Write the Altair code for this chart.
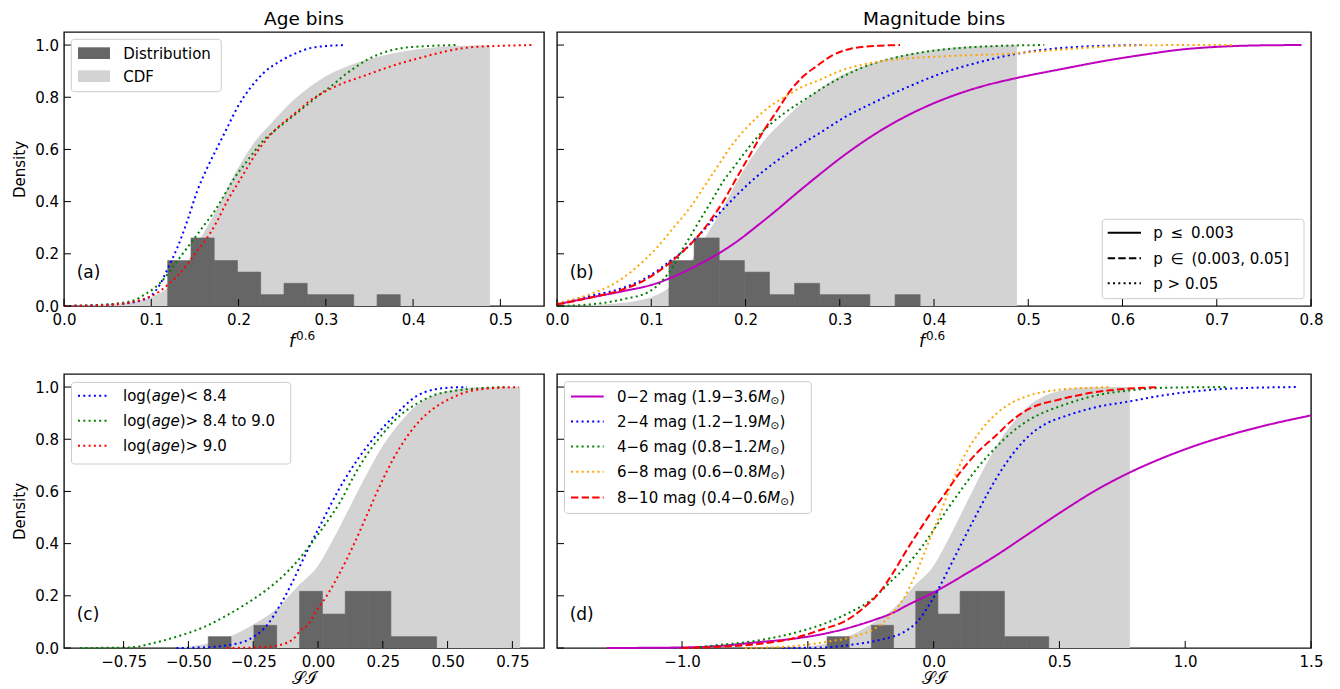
import altair as alt
import pandas as pd

FONT = "DejaVu Sans"

# ---------------- data ----------------
Y_TICKS = [0.0, 0.2, 0.4, 0.6, 0.8, 1.0]

# histogram of f^0.6 (relative frequency)
F_BIN_EDGES = [0.1188, 0.1455, 0.1721, 0.1988, 0.2254, 0.2521, 0.2787, 0.3054, 0.3320, 0.3587, 0.3853]
F_HEIGHTS = [0.174, 0.261, 0.174, 0.130, 0.0435, 0.087, 0.0435, 0.0435, 0.0, 0.0435]
# smooth CDF of f^0.6
CDF_F_X = [0.0, 0.04, 0.07, 0.09, 0.10, 0.115, 0.13, 0.145, 0.16, 0.175, 0.19, 0.205, 0.22, 0.24,
           0.26, 0.28, 0.30, 0.33, 0.36, 0.39, 0.42, 0.45, 0.488]
CDF_F_Y = [0.0, 0.004, 0.012, 0.024, 0.034, 0.06, 0.11, 0.19, 0.28, 0.37, 0.47, 0.56, 0.635, 0.71,
           0.78, 0.835, 0.88, 0.925, 0.955, 0.976, 0.99, 0.996, 1.0]

# histogram of SI
S_BIN_EDGES = [-0.4235, -0.3354, -0.2473, -0.1592, -0.0710, 0.0171, 0.1052, 0.1933, 0.2814, 0.3696, 0.4577]
S_HEIGHTS = [0.0435, 0.0, 0.087, 0.0, 0.217, 0.130, 0.217, 0.217, 0.0435, 0.0435]
CDF_S_X = [-0.55, -0.45, -0.35, -0.25, -0.16, -0.08, 0.0, 0.06, 0.12, 0.19, 0.25, 0.32, 0.38, 0.44,
           0.51, 0.6, 0.7, 0.78]
CDF_S_Y = [0.0, 0.012, 0.04, 0.09, 0.15, 0.235, 0.315, 0.42, 0.535, 0.67, 0.775, 0.868, 0.93, 0.966,
           0.987, 0.998, 1.0, 1.0]

# panel (a): age bins, f^0.6
A_BLUE_X = [0.0, 0.038, 0.0775, 0.089, 0.0993, 0.11, 0.1184, 0.1298, 0.1413, 0.1527, 0.1642, 0.1756,
            0.187, 0.1985, 0.2138, 0.229, 0.248, 0.2673, 0.2845, 0.30, 0.32]
A_BLUE_Y = [0.0, 0.003, 0.013, 0.022, 0.038, 0.083, 0.14, 0.223, 0.326, 0.441, 0.53, 0.607, 0.683,
            0.76, 0.837, 0.894, 0.939, 0.971, 0.99, 0.996, 1.0]
A_GREEN_X = [0.0, 0.04, 0.0775, 0.093, 0.104, 0.1155, 0.127, 0.1384, 0.15, 0.1613, 0.1727, 0.1842,
             0.1956, 0.207, 0.2185, 0.23, 0.2414, 0.253, 0.2708, 0.2845, 0.2937, 0.309, 0.3204,
             0.3318, 0.347, 0.366, 0.385, 0.416, 0.45]
A_GREEN_Y = [0.0, 0.004, 0.019, 0.045, 0.07, 0.108, 0.16, 0.211, 0.262, 0.313, 0.364, 0.428, 0.492,
             0.543, 0.594, 0.640, 0.672, 0.703, 0.750, 0.787, 0.812, 0.850, 0.882, 0.910, 0.943,
             0.971, 0.987, 0.996, 1.0]
A_RED_X = [0.0, 0.05, 0.0775, 0.0955, 0.11, 0.1184, 0.1298, 0.1413, 0.1527, 0.1642, 0.1756, 0.187,
           0.1985, 0.21, 0.2215, 0.233, 0.2444, 0.2597, 0.2708, 0.2803, 0.2918, 0.3052, 0.3204,
           0.3395, 0.3586, 0.3815, 0.4083, 0.435, 0.462, 0.4925, 0.538]
A_RED_Y = [0.0, 0.004, 0.015, 0.032, 0.057, 0.08, 0.115, 0.16, 0.211, 0.262, 0.326, 0.402, 0.466,
           0.53, 0.592, 0.642, 0.683, 0.725, 0.755, 0.783, 0.808, 0.832, 0.855, 0.877, 0.9, 0.926,
           0.951, 0.974, 0.99, 0.996, 1.0]

# panel (b): magnitude bins, f^0.6
B_MAG_X = [0.0, 0.0349, 0.0703, 0.1022, 0.1235, 0.1483, 0.1695, 0.1908, 0.212, 0.2333, 0.2545,
           0.2758, 0.3037, 0.3392, 0.3746, 0.41, 0.4455, 0.488, 0.534, 0.587, 0.6225, 0.658, 0.711,
           0.75, 0.79]
B_MAG_Y = [0.006, 0.032, 0.057, 0.083, 0.112, 0.155, 0.197, 0.247, 0.306, 0.368, 0.433, 0.496,
           0.575, 0.663, 0.735, 0.792, 0.836, 0.874, 0.907, 0.943, 0.963, 0.981, 0.995, 0.999, 1.0]
B_BLUE_X = [0.0, 0.035, 0.0703, 0.0916, 0.1058, 0.12, 0.1341, 0.1483, 0.1624, 0.1766, 0.1908,
            0.205, 0.2191, 0.2333, 0.2474, 0.2616, 0.2758, 0.3037, 0.3392, 0.3746, 0.41, 0.4455,
            0.481, 0.5164, 0.552, 0.59, 0.6225]
B_BLUE_Y = [0.01, 0.038, 0.07, 0.102, 0.134, 0.172, 0.211, 0.262, 0.318, 0.372, 0.425, 0.474,
            0.517, 0.556, 0.592, 0.625, 0.656, 0.72, 0.785, 0.843, 0.894, 0.932, 0.962, 0.982,
            0.993, 0.998, 1.0]
B_GREEN_X = [0.0, 0.035, 0.0703, 0.0987, 0.113, 0.1235, 0.1341, 0.1447, 0.1553, 0.166, 0.1766,
             0.1872, 0.1978, 0.212, 0.2262, 0.2404, 0.2545, 0.2722, 0.286, 0.3037, 0.3214, 0.3392,
             0.3746, 0.41, 0.4455, 0.48, 0.517]
B_GREEN_Y = [0.0, 0.006, 0.026, 0.057, 0.102, 0.153, 0.223, 0.287, 0.351, 0.415, 0.479, 0.53,
             0.581, 0.645, 0.696, 0.737, 0.772, 0.813, 0.845, 0.88, 0.91, 0.933, 0.964, 0.983,
             0.993, 0.998, 1.0]
B_ORANGE_X = [0.0, 0.035, 0.0561, 0.0703, 0.088, 0.1058, 0.1235, 0.1412, 0.1553, 0.1695, 0.1837,
              0.1978, 0.212, 0.2262, 0.2404, 0.258, 0.2758, 0.3037, 0.3392, 0.3746, 0.41, 0.4455,
              0.481, 0.5164, 0.552, 0.587, 0.6225, 0.67, 0.72]
B_ORANGE_Y = [0.01, 0.045, 0.077, 0.108, 0.16, 0.223, 0.3, 0.377, 0.453, 0.53, 0.607, 0.67, 0.722,
              0.766, 0.798, 0.836, 0.862, 0.905, 0.935, 0.95, 0.957, 0.962, 0.967, 0.977, 0.987,
              0.995, 0.999, 1.0, 1.0]
B_RED_X = [0.0, 0.035, 0.0703, 0.0916, 0.1058, 0.12, 0.1341, 0.1483, 0.1624, 0.1766, 0.1908, 0.205,
           0.2191, 0.2333, 0.2474, 0.2616, 0.2758, 0.2895, 0.3108, 0.3392, 0.364]
B_RED_Y = [0.006, 0.032, 0.064, 0.096, 0.128, 0.166, 0.211, 0.262, 0.326, 0.402, 0.492, 0.581,
           0.67, 0.747, 0.824, 0.881, 0.92, 0.955, 0.985, 0.997, 1.0]

# panel (c): age bins, SI
C_BLUE_X = [-0.546, -0.45, -0.34, -0.262, -0.193, -0.151, -0.1, -0.05, 0.0135, 0.082, 0.151, 0.22,
            0.30, 0.38, 0.445, 0.50, 0.575]
C_BLUE_Y = [0.0, 0.002, 0.012, 0.035, 0.092, 0.156, 0.25, 0.355, 0.48, 0.61, 0.72, 0.81, 0.895,
            0.965, 0.99, 0.997, 1.0]
C_GREEN_X = [-0.918, -0.725, -0.623, -0.533, -0.443, -0.366, -0.289, -0.2116, -0.147, -0.083,
             -0.0317, 0.0339, 0.0852, 0.1364, 0.188, 0.2393, 0.3037, 0.3807, 0.4447, 0.535, 0.637,
             0.72]
C_GREEN_Y = [0.0, 0.002, 0.022, 0.047, 0.079, 0.117, 0.162, 0.213, 0.265, 0.329, 0.393, 0.482,
             0.559, 0.655, 0.74, 0.808, 0.88, 0.936, 0.968, 0.987, 0.996, 1.0]
C_RED_X = [-0.35, -0.237, -0.16, -0.096, -0.069, -0.0317, -0.0177, 0.0339, 0.0852, 0.1364, 0.188,
           0.2393, 0.2906, 0.342, 0.3935, 0.4447, 0.509, 0.573, 0.65, 0.775]
C_RED_Y = [0.0, 0.002, 0.009, 0.034, 0.066, 0.098, 0.124, 0.2, 0.29, 0.393, 0.508, 0.623, 0.725,
           0.808, 0.872, 0.917, 0.955, 0.981, 0.994, 1.0]

# panel (d): magnitude bins, SI
D_MAG_X = [-1.298, -1.0, -0.835, -0.702, -0.57, -0.4377, -0.3056, -0.226, -0.173, -0.094, -0.016,
           0.116, 0.249, 0.381, 0.513, 0.646, 0.778, 0.91, 1.042, 1.175, 1.307, 1.499]
D_MAG_Y = [0.0, 0.002, 0.009, 0.022, 0.034, 0.054, 0.086, 0.111, 0.13, 0.169, 0.205, 0.277, 0.355,
           0.44, 0.525, 0.605, 0.672, 0.728, 0.776, 0.816, 0.85, 0.891]
D_BLUE_X = [-0.6, -0.4377, -0.3056, -0.2, -0.12, -0.0675, -0.0147, 0.0238, 0.0635, 0.116, 0.1694,
            0.222, 0.275, 0.328, 0.381, 0.447, 0.513, 0.646, 0.778, 0.91, 1.042, 1.175, 1.44]
D_BLUE_Y = [0.0, 0.002, 0.015, 0.034, 0.06, 0.098, 0.17, 0.235, 0.31, 0.41, 0.51, 0.605, 0.69,
            0.76, 0.815, 0.86, 0.885, 0.923, 0.945, 0.968, 0.984, 0.994, 1.0]
D_GREEN_X = [-0.95, -0.905, -0.702, -0.57, -0.4377, -0.332, -0.2527, -0.173, -0.107, -0.041, 0.012,
             0.05, 0.116, 0.1825, 0.249, 0.315, 0.381, 0.513, 0.646, 0.778, 0.91, 1.16]
D_GREEN_Y = [0.0, 0.006, 0.028, 0.054, 0.092, 0.137, 0.181, 0.252, 0.316, 0.395, 0.47, 0.525, 0.615,
             0.70, 0.77, 0.83, 0.875, 0.93, 0.968, 0.987, 0.997, 1.0]
D_ORANGE_X = [-0.75, -0.57, -0.4377, -0.3056, -0.226, -0.173, -0.12, -0.08, -0.041, -0.016, 0.0238,
              0.0635, 0.116, 0.1825, 0.249, 0.315, 0.381, 0.513, 0.646, 0.698]
D_ORANGE_Y = [0.0, 0.006, 0.022, 0.047, 0.079, 0.124, 0.188, 0.265, 0.354, 0.415, 0.508, 0.61,
              0.725, 0.827, 0.898, 0.942, 0.968, 0.991, 0.998, 1.0]
D_RED_X = [-1.0, -0.702, -0.57, -0.4377, -0.358, -0.279, -0.213, -0.16, -0.107, -0.054, -0.016,
           0.037, 0.103, 0.1694, 0.249, 0.315, 0.381, 0.513, 0.646, 0.778, 0.897]
D_RED_Y = [0.0, 0.015, 0.034, 0.073, 0.1, 0.153, 0.215, 0.29, 0.375, 0.455, 0.51, 0.58, 0.67,
           0.745, 0.815, 0.875, 0.917, 0.955, 0.981, 0.994, 1.0]

X_TICKS_A = [0.0, 0.1, 0.2, 0.3, 0.4, 0.5]
X_TICKS_B = [0.0, 0.1, 0.2, 0.3, 0.4, 0.5, 0.6, 0.7, 0.8]
X_TICKS_C = [-0.75, -0.5, -0.25, 0.0, 0.25, 0.5, 0.75]
X_TICKS_D = [-1.0, -0.5, 0.0, 0.5, 1.0, 1.5]

AGE_LABELS = [("log(", "age", ")< 8.4"), ("log(", "age", ")> 8.4 to 9.0"), ("log(", "age", ")> 9.0")]
MAG_LABELS = ["0\u22122 mag (1.9\u22123.6", "2\u22124 mag (1.2\u22121.9", "4\u22126 mag (0.8\u22121.2",
              "6\u22128 mag (0.6\u22120.8", "8\u221210 mag (0.4\u22120.6"]
P_LABELS = ["p\u00a0\u2009\u2264\u2009\u00a00.003", "p\u00a0\u2009\u2208\u2009\u00a0(0.003, 0.05]", "p > 0.05"]

# ---------------- styling ----------------
BLUE, GREEN, RED, ORANGE, MAGENTA = "#0000ff", "#008000", "#ff0000", "#ffa500", "#bf00bf"
DOT = [2, 3.3]
DASH = [7.4, 3.2]
SOLID = [1, 0]
W_L, W_R, H = 480, 754, 274
FS = 15

CW = {' ': 0.318, '(': 0.390, ')': 0.390, ',': 0.318, '.': 0.318, '<': 0.838, '>': 0.838,
      '\u2212': 0.838, 'D': 0.770, 'C': 0.698, 'F': 0.575, 'M': 0.863, 'a': 0.613, 'b': 0.635,
      'e': 0.615, 'g': 0.635, 'i': 0.278, 'l': 0.278, 'm': 0.974, 'n': 0.634, 'o': 0.612,
      'p': 0.635, 'r': 0.411, 's': 0.521, 't': 0.392, 'u': 0.634, '\u2299': 0.838}


def tw(s, size):
    return sum(CW.get(c, 0.636) for c in s) * size


ONE = alt.Data(values=[{"k": 1}])


def txt(text, x, y, size=FS, style="normal", align="left", baseline="middle", font=FONT):
    return alt.Chart(ONE).mark_text(text=text, font=font, fontSize=size, fontStyle=style,
                                    align=align, baseline=baseline, color="black").encode(
        x=alt.value(x), y=alt.value(y))


def seg(x1, x2, y, color, dash, width=2):
    return alt.Chart(ONE).mark_rule(color=color, strokeDash=dash, strokeWidth=width,
                                    strokeCap="butt").encode(
        x=alt.value(x1), x2=alt.value(x2), y=alt.value(y))


def box(x1, x2, y1, y2, fill="white", stroke="#cccccc", radius=3, opacity=0.8):
    kw = dict(fill=fill, fillOpacity=opacity, cornerRadius=radius)
    if stroke:
        kw.update(stroke=stroke, strokeWidth=1)
    else:
        kw.update(strokeWidth=0)
    return alt.Chart(ONE).mark_rect(**kw).encode(
        x=alt.value(x1), x2=alt.value(x2), y=alt.value(y1), y2=alt.value(y2))


def runs(parts, x0, y):
    """parts: list of (text, style, size, dy) laid out left to right"""
    out = []
    x = x0
    for text, style, size, dy in parts:
        out.append(txt(text, x, y + dy, size=size, style=style))
        x += tw(text, size)
    return out


def panel(width, xdom, xticks, xfmt, cdf_x, cdf_y, edges, heights, series, show_y, label,
          xtitle, extra, title=None):
    xs = alt.Scale(domain=xdom, nice=False, zero=False)
    ys = alt.Scale(domain=[0, 1.05], nice=False, zero=False)
    xaxis = alt.Axis(values=xticks, format=xfmt, labelFlush=False, labelOverlap=False, ticks=False,
                     domain=False, grid=False, labelPadding=6, labelFontSize=FS, labelFont=FONT,
                     labelColor="black", title=None)
    if show_y:
        yaxis = alt.Axis(values=Y_TICKS, format=".1f", ticks=False, domain=False, grid=False,
                         labelPadding=5.5, labelFontSize=FS, labelFont=FONT, labelColor="black",
                         labelOverlap=False, labelFlush=False,
                         title="Density", titleFont=FONT, titleFontSize=FS, titleFontWeight="normal",
                         titleColor="black", titlePadding=7)
    else:
        yaxis = alt.Axis(values=Y_TICKS, ticks=False, domain=False, grid=False, labels=False,
                         title=None)

    def X(f):
        return alt.X(f, scale=xs, axis=xaxis)

    def Y(f):
        return alt.Y(f, scale=ys, axis=yaxis)

    cdf = alt.Chart(pd.DataFrame({"x": cdf_x, "y": cdf_y})).mark_area(
        color="#d3d3d3", interpolate="monotone").encode(x=X("x:Q"), y=Y("y:Q"))

    hdf = pd.DataFrame({"x0": edges[:-1], "x1": edges[1:], "h": heights})
    hdf = hdf[hdf["h"] > 0]
    hist = alt.Chart(hdf).mark_rect(color="#666666", stroke="#666666", strokeWidth=0.6).encode(
        x=X("x0:Q"), x2="x1:Q", y=Y("h:Q"), y2=alt.datum(0))

    line_layers = []
    for name, xv, yv, color, dash in series:
        ldf = pd.DataFrame({"x": xv, "y": yv, "i": list(range(len(xv)))})
        line_layers.append(alt.Chart(ldf).mark_line(
            strokeWidth=2, interpolate="monotone", strokeCap="butt", color=color, strokeDash=dash).encode(
            x=X("x:Q"), y=Y("y:Q"), order="i:Q"))

    xt = alt.Chart(pd.DataFrame({"v": xticks})).mark_rule(color="black", strokeWidth=1).encode(
        x=X("v:Q"), y=alt.value(H), y2=alt.value(H - 7))
    yt = alt.Chart(pd.DataFrame({"v": Y_TICKS})).mark_rule(color="black", strokeWidth=1).encode(
        y=Y("v:Q"), x=alt.value(0), x2=alt.value(7))

    lab = txt(label, 12.7, 240.5, size=17)

    if xtitle == "f":
        xt_layers = [txt("f", width / 2 - 15, H + 41, size=17, style="italic", baseline="alphabetic"),
                     txt("0.6", width / 2 - 8, H + 34, size=12, baseline="alphabetic")]
    else:
        xt_layers = [txt("\U0001D4AE\u2110", width / 2, H + 36, size=17, align="center",
                         baseline="alphabetic", font="DejaVu Serif")]

    layers = [cdf, hist] + line_layers + [xt, yt] + extra + [lab] + xt_layers
    ch = alt.layer(*layers).properties(
        width=width, height=H,
        view=alt.ViewBackground(stroke="#111111", strokeWidth=1.4))
    if title:
        ch = ch.properties(title=alt.TitleParams(title, font=FONT, fontSize=18.5, fontWeight="normal",
                                                 color="black", offset=4, anchor="middle", frame="group"))
    return ch


# ---------- legends ----------
leg_a = [box(7.3, 157.3, 7.3, 59.7),
         box(14, 46, 15.3, 27, fill="#666666", stroke=None, radius=0, opacity=1),
         box(14, 46, 38.3, 50, fill="#d3d3d3", stroke=None, radius=0, opacity=1),
         txt("Distribution", 59.3, 21.7),
         txt("CDF", 59.3, 44.7)]

leg_b = [box(545.3, 747, 187.3, 266.7)]
for (lab_, dash_), yy in zip(zip(P_LABELS, [SOLID, DASH, DOT]), [200.7, 226.3, 251.3]):
    leg_b.append(seg(550.7, 584, yy, "black", dash_))
    leg_b.append(txt(lab_, 596.3, yy + 0.5))

leg_c = [box(7.5, 226.7, 8.4, 90)]
for (pre, it, post), col, yy in zip(AGE_LABELS, [BLUE, GREEN, RED], [21.7, 46.7, 71.7]):
    leg_c.append(seg(14, 44, yy, col, DOT))
    leg_c += runs([(pre, "normal", FS, 0.5), (it, "italic", FS, 0.5), (post, "normal", FS, 0.5)], 59, yy)

leg_d = [box(7.5, 254.3, 7.7, 139.4)]
for text_, col, dash_, yy in zip(MAG_LABELS, [MAGENTA, BLUE, GREEN, ORANGE, RED],
                                  [SOLID, DOT, DOT, DOT, DASH], [22.4, 47.4, 72.4, 97.7, 123.4]):
    leg_d.append(seg(14, 46.7, yy, col, dash_))
    leg_d += runs([(text_, "normal", FS, 0.5), ("M", "italic", FS, 0.5),
                   ("\u2299", "normal", 10.5, 4.5), (")", "normal", FS, 0.5)], 60, yy)

series_a = [("a1", A_BLUE_X, A_BLUE_Y, BLUE, DOT), ("a2", A_GREEN_X, A_GREEN_Y, GREEN, DOT),
            ("a3", A_RED_X, A_RED_Y, RED, DOT)]
series_b = [("b1", B_MAG_X, B_MAG_Y, MAGENTA, SOLID), ("b2", B_BLUE_X, B_BLUE_Y, BLUE, DOT),
            ("b3", B_GREEN_X, B_GREEN_Y, GREEN, DOT), ("b4", B_ORANGE_X, B_ORANGE_Y, ORANGE, DOT),
            ("b5", B_RED_X, B_RED_Y, RED, DASH)]
series_c = [("c1", C_BLUE_X, C_BLUE_Y, BLUE, DOT), ("c2", C_GREEN_X, C_GREEN_Y, GREEN, DOT),
            ("c3", C_RED_X, C_RED_Y, RED, DOT)]
series_d = [("d1", D_MAG_X, D_MAG_Y, MAGENTA, SOLID), ("d2", D_BLUE_X, D_BLUE_Y, BLUE, DOT),
            ("d3", D_GREEN_X, D_GREEN_Y, GREEN, DOT), ("d4", D_ORANGE_X, D_ORANGE_Y, ORANGE, DOT),
            ("d5", D_RED_X, D_RED_Y, RED, DASH)]

pa = panel(W_L, [0, 0.55], X_TICKS_A, ".1f", CDF_F_X, CDF_F_Y, F_BIN_EDGES, F_HEIGHTS, series_a,
           True, "(a)", "f", leg_a, title="Age bins")
pb = panel(W_R, [0, 0.8], X_TICKS_B, ".1f", CDF_F_X, CDF_F_Y, F_BIN_EDGES, F_HEIGHTS, series_b,
           False, "(b)", "f", leg_b, title="Magnitude bins")
pc = panel(W_L, [-0.98, 0.872], X_TICKS_C, ".2f", CDF_S_X, CDF_S_Y, S_BIN_EDGES, S_HEIGHTS, series_c,
           True, "(c)", "s", leg_c)
pd_ = panel(W_R, [-1.497, 1.5], X_TICKS_D, ".1f", CDF_S_X, CDF_S_Y, S_BIN_EDGES, S_HEIGHTS, series_d,
            False, "(d)", "s", leg_d)

chart = alt.concat(pa, pb, pc, pd_, columns=2, spacing=alt.RowColnumber(row=68, column=13),
                   bounds="flush", align="each").resolve_scale(
    x="independent", y="independent").properties(
    padding={"left": 3, "top": 0, "right": 5, "bottom": 0}
).configure_view(stroke="#111111", strokeWidth=1.4).configure(font=FONT)

chart.save("out.html", embed_options={"renderer": "svg", "actions": False})
